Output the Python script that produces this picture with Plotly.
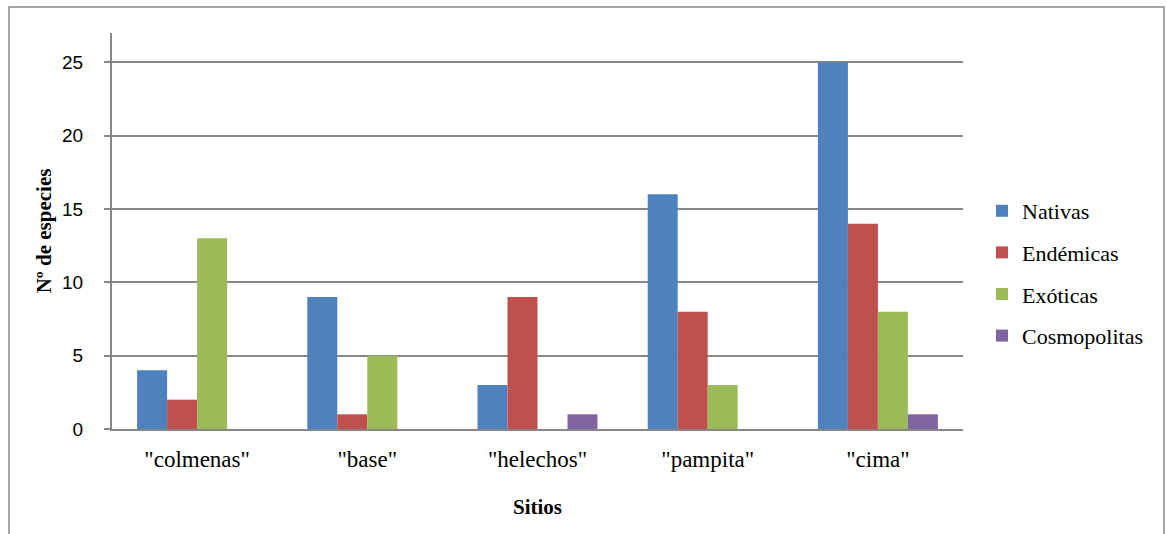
import plotly.graph_objects as go

sitios = ['"colmenas"', '"base"', '"helechos"', '"pampita"', '"cima"']
nativas = [4, 9, 3, 16, 25]
endemicas = [2, 1, 9, 8, 14]
exoticas = [13, 5, 0, 3, 8]
cosmopolitas = [0, 0, 1, 0, 1]

series = [
    ("Nativas", nativas, "#4F81BD"),
    ("Endémicas", endemicas, "#C0504D"),
    ("Exóticas", exoticas, "#9BBB59"),
    ("Cosmopolitas", cosmopolitas, "#8064A2"),
]

SERIF = "Times New Roman"
SANS = "Liberation Sans"

W, H = 1167, 534
L, R, T, B = 112, 204, 33, 105

fig = go.Figure()
for name, vals, col in series:
    fig.add_trace(go.Bar(
        x=sitios, y=vals, name=name, legendgroup=name,
        marker=dict(color=col, line=dict(width=0)),
    ))

gray = "#878787"
pw = W - L - R
ph = H - T - B


def px_x(v):
    return (v - L) / pw


def px_y(v):
    return (H - B - v) / ph


fig.update_layout(
    width=W, height=H,
    margin=dict(l=L, r=R, t=T, b=B, pad=0),
    paper_bgcolor="white", plot_bgcolor="white",
    barmode="group", bargap=0.295, bargroupgap=0,
    font=dict(family=SERIF),
    showlegend=True,
    legend=dict(
        x=px_x(982), y=px_y(190), xanchor="left", yanchor="top",
        font=dict(family=SERIF, size=22, color="black"),
        tracegroupgap=10, itemwidth=30, bgcolor="rgba(0,0,0,0)",
    ),
    xaxis=dict(
        showline=True, linecolor=gray, linewidth=2, ticks="",
        ticklabelstandoff=8,
        tickfont=dict(family=SERIF, size=23, color="black"),
        title=dict(text="<b>Sitios</b>", font=dict(family=SERIF, size=21, color="black"), standoff=29),
        showgrid=False,
    ),
    yaxis=dict(
        range=[0, 27], tickvals=[0, 5, 10, 15, 20, 25],
        showline=True, linecolor=gray, linewidth=2,
        ticks="outside", ticklen=6, tickcolor=gray, tickwidth=2,
        ticklabelstandoff=17,
        showgrid=True, gridcolor=gray, gridwidth=2, zeroline=False,
        tickfont=dict(family=SANS, size=19, color="black"),
        title=dict(text="<b>Nº de especies</b>", font=dict(family=SERIF, size=21, color="black"), standoff=5),
    ),
    shapes=[dict(
        type="rect", xref="paper", yref="paper",
        x0=px_x(9), x1=px_x(1164), y0=px_y(560), y1=px_y(7),
        line=dict(color="#8a8a8a", width=1.5), fillcolor="rgba(0,0,0,0)", layer="below",
    )],
)

fig.write_html("out.html")
